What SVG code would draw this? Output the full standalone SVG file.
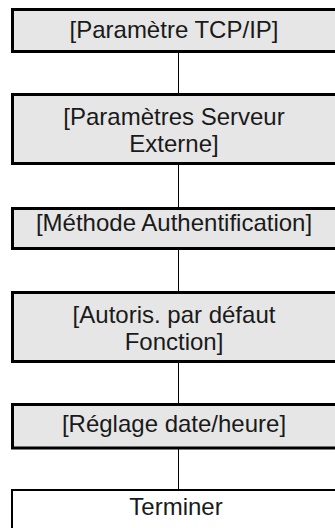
<svg xmlns="http://www.w3.org/2000/svg" width="335" height="528" viewBox="0 0 335 528">
<style>
.box{fill:#e6e6e6;stroke:#000;stroke-width:3}
.end{fill:#fff;stroke:#000;stroke-width:2}
.t{font-family:"Liberation Sans",Arial,sans-serif;font-size:24px;fill:#1a1a1a;text-anchor:middle}
.c{stroke:#000;stroke-width:1;fill:none}
</style>
<rect width="335" height="528" fill="#fff"/>
<g id="connectors">
<line class="c" x1="178.5" y1="53" x2="178.5" y2="93"/>
<line class="c" x1="178.5" y1="165" x2="178.5" y2="207"/>
<line class="c" x1="178.5" y1="250" x2="178.5" y2="291"/>
<line class="c" x1="178.5" y1="363" x2="178.5" y2="403"/>
<line class="c" x1="178.5" y1="449" x2="178.5" y2="489"/>
</g>
<g id="n1">
<rect class="box" x="12.5" y="9.5" width="340" height="42"/>
<text class="t" x="174" y="38">[Paramètre TCP/IP]</text>
</g>
<g id="n2">
<rect class="box" x="12.5" y="94.5" width="340" height="69"/>
<text class="t" x="174" y="125">[Paramètres Serveur</text>
<text class="t" x="174" y="152">Externe]</text>
</g>
<g id="n3">
<rect class="box" x="12.5" y="208.5" width="340" height="40"/>
<text class="t" x="174" y="231">[Méthode Authentification]</text>
</g>
<g id="n4">
<rect class="box" x="12.5" y="292.5" width="340" height="69"/>
<text class="t" x="174" y="323">[Autoris. par défaut</text>
<text class="t" x="174" y="350">Fonction]</text>
</g>
<g id="n5">
<rect class="box" x="12.5" y="404.5" width="340" height="43.5"/>
<text class="t" x="174" y="432">[Réglage date/heure]</text>
</g>
<g id="n6">
<rect class="end" x="12" y="490" width="340" height="60"/>
<text class="t" x="176" y="515">Terminer</text>
</g>
</svg>
